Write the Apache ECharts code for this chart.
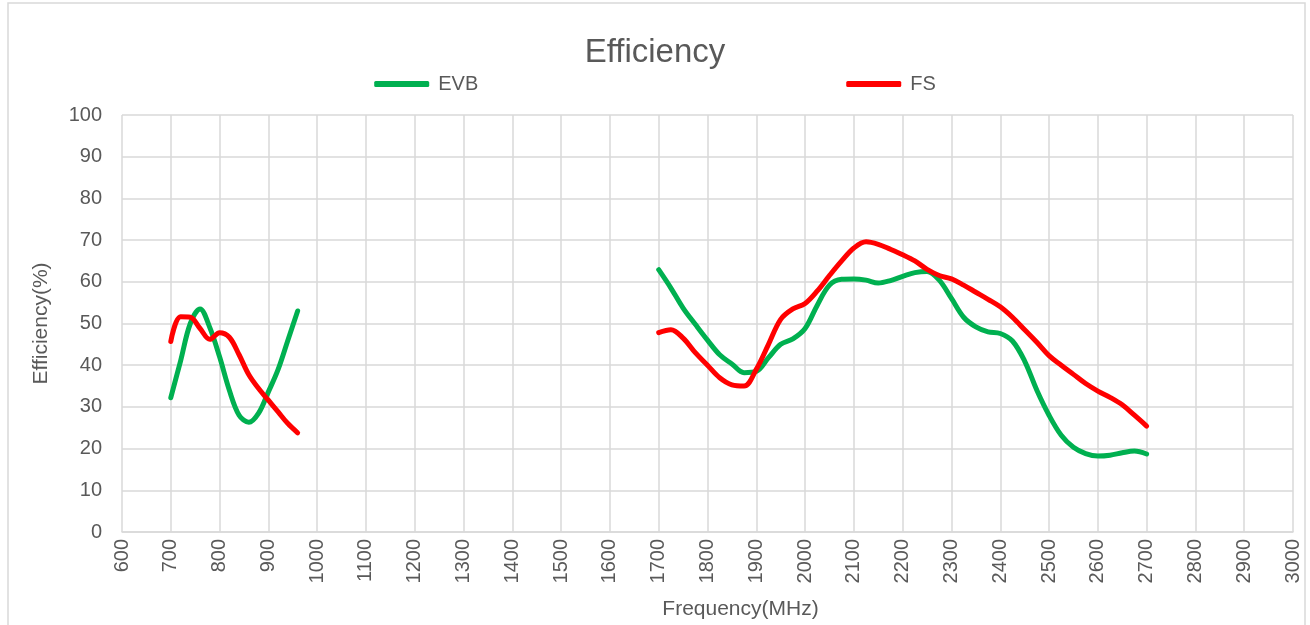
<!DOCTYPE html>
<html>
<head>
<meta charset="utf-8">
<script src="https://cdn.jsdelivr.net/npm/echarts@6/dist/echarts.min.js"></script>
<style>
html,body{margin:0;padding:0;background:#fff;}
#chart{width:1310px;height:625px;}
</style>
</head>
<body>
<div id="chart"></div>
<script>
// Low band (MHz)
var freqLow = [700, 720, 740, 760, 780, 800, 820, 840, 860, 880, 900, 920, 940, 960];
var evbLow  = [32.2, 41, 50, 53.5, 49, 42, 34, 28, 26.3, 28.5, 33.6, 39, 46, 53];
var fsLow   = [45.7, 51.6, 51.5, 48.8, 46.2, 47.8, 46.7, 42.5, 37.7, 34.4, 31.6, 28.8, 26, 23.8];

// High band (MHz)
var freqHigh = [1700, 1725, 1750, 1775, 1800, 1825, 1850, 1875, 1900, 1925, 1950, 1975, 2000,
                2025, 2050, 2075, 2100, 2125, 2150, 2175, 2200, 2225, 2250, 2275, 2300,
                2325, 2350, 2375, 2400, 2425, 2450, 2475, 2500, 2525, 2550, 2575, 2600,
                2625, 2650, 2675, 2700];
var evbHigh = [62.9, 58.5, 53.7, 49.8, 46, 42.5, 40.3, 38.2, 38.5, 41.8, 45, 46.3, 48.8,
               54.4, 59.2, 60.6, 60.7, 60.4, 59.7, 60.3, 61.3, 62.2, 62.5, 60.4, 56,
               51.5, 49.2, 48, 47.6, 45.8, 41, 34, 28, 23.2, 20.3, 18.8, 18.2,
               18.4, 19, 19.4, 18.7];
var fsHigh  = [47.8, 48.5, 46.5, 43, 40, 37, 35.3, 35.0, 39, 45, 51, 53.5, 54.8,
               57.8, 61.5, 65, 68.1, 69.6, 69, 67.8, 66.5, 65, 63, 61.5, 60.7,
               59.2, 57.5, 55.8, 54, 51.5, 48.5, 45.5, 42.3, 40, 37.8, 35.6, 33.8,
               32.3, 30.5, 28, 25.4];

var seriesNames = ['EVB', 'FS'];
var titleText = 'Efficiency';
var xName = 'Frequency(MHz)';
var yName = 'Efficiency(%)';

function pairs(xs, ys) {
  return xs.map(function (x, i) { return [x, ys[i]]; });
}

var FONT = 'Liberation Sans';
var TXT = '#595959';
var GRID = '#d9d9d9';
var colors = { EVB: '#00b050', FS: '#ff0000' };

function mkSeries(name, data) {
  return {
    name: name,
    type: 'line',
    data: data,
    smooth: 0.35,
    symbol: 'none',
    lineStyle: { width: 5, color: colors[name], cap: 'round', join: 'round' },
    itemStyle: { color: colors[name] },
    z: name === 'FS' ? 3 : 2
  };
}

var chart = echarts.init(document.getElementById('chart'), null, { renderer: 'canvas' });
chart.setOption({
  backgroundColor: '#fff',
  animation: false,
  graphic: [{
    type: 'rect',
    shape: { x: 8, y: 3, width: 1297, height: 640 },
    style: { fill: 'none', stroke: GRID, lineWidth: 1.5 },
    silent: true, z: -1
  }],
  title: {
    text: titleText,
    left: 'center',
    top: 31,
    textStyle: { fontFamily: FONT, fontSize: 33, fontWeight: 'normal', color: TXT }
  },
  legend: {
    data: seriesNames,
    left: 'center',
    top: 69,
    itemWidth: 55,
    itemHeight: 6,
    itemGap: 368,
    icon: 'roundRect',
    textStyle: { fontFamily: FONT, fontSize: 20, color: TXT, padding: [0, 0, 0, 4] }
  },
  grid: { left: 122, right: 17, top: 115, bottom: 87, containLabel: false },
  xAxis: {
    type: 'value',
    min: 600, max: 3000, interval: 100,
    name: xName,
    nameLocation: 'middle',
    nameGap: 67,
    nameTextStyle: { fontFamily: FONT, fontSize: 21, color: TXT, padding: [0, 0, 0, 66] },
    axisLine: { show: true, lineStyle: { color: GRID, width: 1.5 } },
    axisTick: { show: false },
    axisLabel: {
      rotate: 90, margin: 7, fontFamily: FONT, fontSize: 20, color: TXT,
      formatter: function (v) { return String(v); }
    },
    splitLine: { show: true, lineStyle: { color: GRID, width: 1.5 } }
  },
  yAxis: {
    type: 'value',
    min: 0, max: 100, interval: 10,
    name: yName,
    nameLocation: 'middle',
    nameGap: 70,
    nameTextStyle: { fontFamily: FONT, fontSize: 21, color: TXT },
    axisLine: { show: false },
    axisTick: { show: false },
    axisLabel: { margin: 20, fontFamily: FONT, fontSize: 20, color: TXT },
    splitLine: { show: true, lineStyle: { color: GRID, width: 1.5 } }
  },
  series: [
    mkSeries('EVB', pairs(freqLow, evbLow)),
    mkSeries('EVB', pairs(freqHigh, evbHigh)),
    mkSeries('FS', pairs(freqLow, fsLow)),
    mkSeries('FS', pairs(freqHigh, fsHigh))
  ]
});
</script>
</body>
</html>
